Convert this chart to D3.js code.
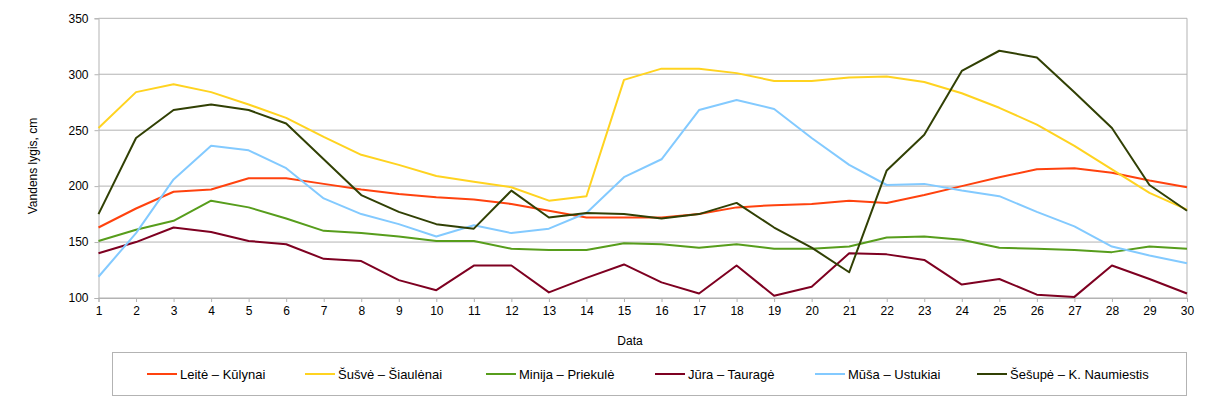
<!DOCTYPE html>
<html><head><meta charset="utf-8">
<script src="https://cdn.jsdelivr.net/npm/d3@7"></script>
<style>body{margin:0;background:#fff}svg{display:block;font-family:"Liberation Sans",Arial,sans-serif}</style>
</head><body><svg id="c" width="1216" height="410"></svg>
<script>
const days = d3.range(1, 31);
const yTicks = [100, 150, 200, 250, 300, 350];
const seriesNames = ["Leitė – Kūlynai","Šušvė – Šiaulėnai","Minija – Priekulė","Jūra – Tauragė","Mūša – Ustukiai","Šešupė – K. Naumiestis"];
const seriesColors = ["#ff420e","#ffd320","#579d1c","#7e0021","#83caff","#314004"];
const leite  = [163,180,195,197,207,207,202,197,193,190,188,184,178,172,172,172,175,181,183,184,187,185,192,200,208,215,216,212,205,199];
const susve  = [252,284,291,284,273,261,244,228,219,209,204,199,187,191,295,305,305,301,294,294,297,298,293,283,270,255,236,215,194,179];
const minija = [151,161,169,187,181,171,160,158,155,151,151,144,143,143,149,148,145,148,144,144,146,154,155,152,145,144,143,141,146,144];
const jura   = [140,150,163,159,151,148,135,133,116,107,129,129,105,118,130,114,104,129,102,110,140,139,134,112,117,103,101,129,117,104];
const musa   = [119,158,206,236,232,216,189,175,166,155,165,158,162,176,208,224,268,277,269,243,219,201,202,196,191,177,164,146,138,131];
const sesupe = [175,243,268,273,268,256,224,192,177,166,162,196,172,176,175,171,175,185,163,145,123,214,246,303,321,315,284,252,201,178];
const seriesValues = [leite, susve, minija, jura, musa, sesupe];

const svg = d3.select("#c");
const L = 98.5, R = 1187, T = 18.3, B = 298;
const x = d3.scaleLinear().domain([1, 30]).range([L, R]);
const y = d3.scaleLinear().domain([100, 350]).range([B, T]);
const grid = "#b3b3b3";

// gridlines
svg.append("g").selectAll("line").data(yTicks).join("line")
  .attr("x1", L).attr("x2", R).attr("y1", d => y(d)).attr("y2", d => y(d))
  .attr("stroke", grid).attr("stroke-width", 1);
svg.append("line").attr("x1", R).attr("x2", R).attr("y1", T).attr("y2", B).attr("stroke", grid);

// axes
const yAxis = svg.append("g").attr("transform", `translate(${L},0)`)
  .call(d3.axisLeft(y).tickValues(yTicks).tickSize(4).tickPadding(6));
const xAxis = svg.append("g").attr("transform", `translate(0,${B})`)
  .call(d3.axisBottom(x).tickValues(days).tickSize(4).tickPadding(4).tickFormat(d3.format("d")));
[yAxis, xAxis].forEach(a => {
  a.selectAll("path,line").attr("stroke", grid);
  a.selectAll("text").attr("font-size", 12).attr("fill", "#000").attr("font-family", "Liberation Sans, Arial, sans-serif");
});

// lines
const line = d3.line().x((d, i) => x(days[i])).y(d => y(d));
svg.append("g").selectAll("path").data(seriesValues).join("path")
  .attr("d", d => line(d)).attr("fill", "none")
  .attr("stroke", (d, i) => seriesColors[i]).attr("stroke-width", 2)
  .attr("stroke-linejoin", "round");

// axis titles
svg.append("text").attr("x", 630).attr("y", 345).attr("text-anchor", "middle")
  .attr("font-size", 12).attr("fill", "#000").text("Data");
svg.append("text").attr("transform", "translate(37,166) rotate(-90)").attr("text-anchor", "middle")
  .attr("font-size", 12).attr("fill", "#000").text("Vandens lygis, cm");

// legend
svg.append("rect").attr("x", 112.5).attr("y", 352.5).attr("width", 1074).attr("height", 43)
  .attr("fill", "none").attr("stroke", grid).attr("stroke-width", 1);
const legendX = [147, 305, 486, 655, 815, 977];
const ly = 374;
seriesNames.forEach((n, i) => {
  const lx = legendX[i];
  const g = svg.append("g");
  g.append("line").attr("x1", lx).attr("x2", lx + 30).attr("y1", ly).attr("y2", ly)
    .attr("stroke", seriesColors[i]).attr("stroke-width", 2);
  g.append("text").attr("x", lx + 33).attr("y", ly + 4.5).attr("font-size", 13)
    .attr("fill", "#000").text(n);
});
</script></body></html>
